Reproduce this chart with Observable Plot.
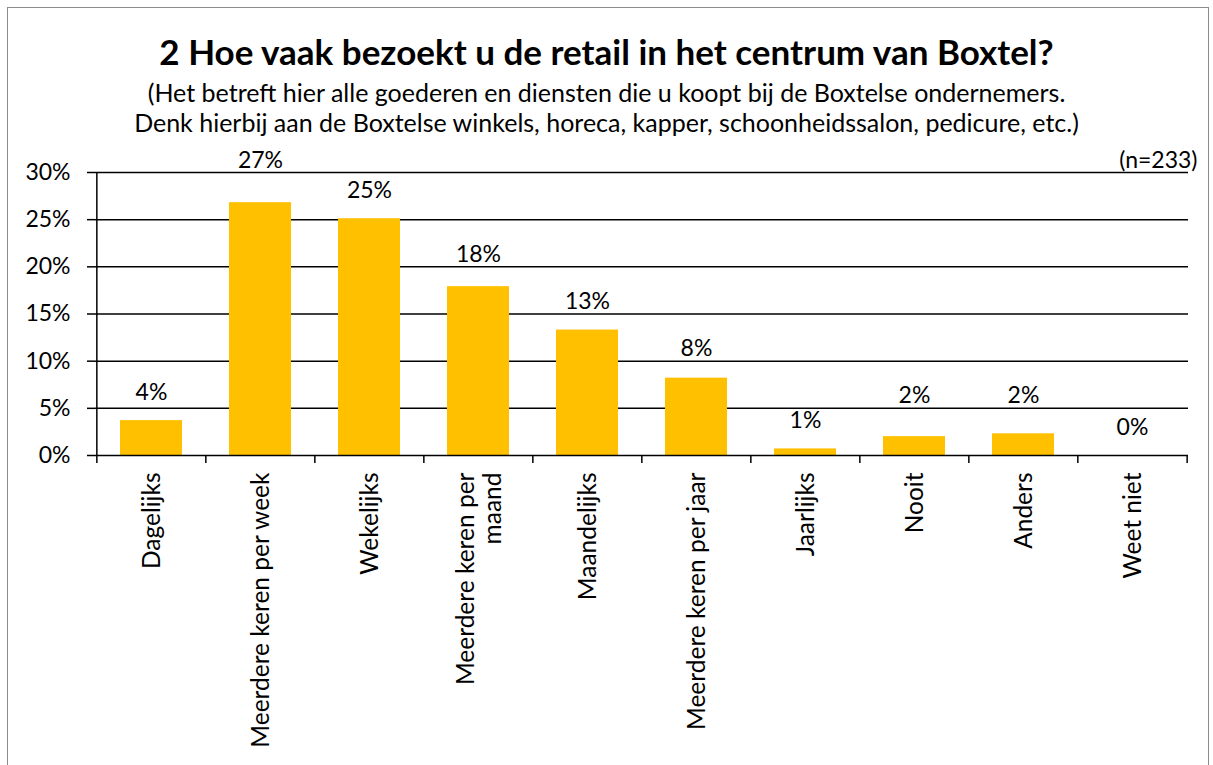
<!DOCTYPE html>
<html>
<head>
<meta charset="utf-8">
<script src="https://cdn.jsdelivr.net/npm/d3@7"></script>
<script src="https://cdn.jsdelivr.net/npm/@observablehq/plot@0.6"></script>
<style>
  body { margin: 0; background: #fff; font-family: Lato, "Open Sans", sans-serif; }
  #wrap { position: relative; width: 1213px; height: 765px; overflow: hidden; }
  #frame { position: absolute; left: 7px; top: 7px; width: 1202px; height: 800px; border: 1.5px solid #8c8c8c; box-sizing: border-box; }
  .t { position: absolute; left: 0; width: 1213px; text-align: center; color: #000; white-space: nowrap; }
  #title { top: 31px; font-size: 35px; font-weight: 700; line-height: 40px; }
  #sub1 { top: 77px; font-size: 25px; line-height: 30px; }
  #sub2 { top: 107px; font-size: 25px; line-height: 30px; }
  #chart { position: absolute; left: 0; top: 0; }
</style>
</head>
<body>
<div id="wrap">
  <div id="frame"></div>
  <div class="t" id="title">2 Hoe vaak bezoekt u de retail in het centrum van Boxtel?</div>
  <div class="t" id="sub1">(Het betreft hier alle goederen en diensten die u koopt bij de Boxtelse ondernemers.</div>
  <div class="t" id="sub2">Denk hierbij aan de Boxtelse winkels, horeca, kapper, schoonheidssalon, pedicure, etc.)</div>
  <div id="chart"></div>
</div>
<script>
const categories = [
  "Dagelijks",
  "Meerdere keren per week",
  "Wekelijks",
  "Meerdere keren per\nmaand",
  "Maandelijks",
  "Meerdere keren per jaar",
  "Jaarlijks",
  "Nooit",
  "Anders",
  "Weet niet"
];
const values = [3.7, 26.8, 25.1, 17.9, 13.3, 8.2, 0.7, 2.0, 2.3, 0];
const yTicks = [0, 5, 10, 15, 20, 25, 30];
const note = "(n=233)";

const data = categories.map((c, i) => ({cat: c, v: values[i]}));

const W = 1213, H = 765;
const mL = 95, mR = 25, mT = 172, mB = 310;
const bw = (W - mL - mR) / categories.length;
const FONT = "Lato, 'Open Sans', sans-serif";

// value label placed just above the bar, nudged above a gridline if it would sit on one
function labelY(v) {
  let y = v + 3;
  const g = Math.round(y / 5) * 5;
  if (g > 0 && Math.abs(y - g) < 1.25) y = g + 1.3;
  return y;
}

const chart = Plot.plot({
  width: W,
  height: H,
  marginLeft: mL,
  marginRight: mR,
  marginTop: mT,
  marginBottom: mB,
  style: { fontFamily: FONT, fontSize: "23px", color: "#000", background: "transparent", overflow: "visible" },
  x: { domain: categories, paddingInner: 0.43, paddingOuter: 0.215, label: null },
  y: { domain: [0, 30], label: null, clamp: false },
  marks: [
    Plot.ruleY(yTicks.filter(d => d > 0), { stroke: "#000", strokeWidth: 1.5 }),
    Plot.barY(data, { x: "cat", y: "v", fill: "#FFC000" }),
    Plot.text(data, { x: "cat", y: d => labelY(d.v), text: d => Math.round(d.v) + "%", lineAnchor: "middle", fontSize: 23, fill: "#000", clip: false }),
    Plot.axisY({ ticks: yTicks, tickFormat: d => d + "%", tickSize: 8, tickPadding: 17, fontSize: 23, stroke: "#000", strokeWidth: 1.5 }),
    Plot.ruleX([categories[0]], { x: d => d, dx: -bw / 2, y1: 0, y2: 30, stroke: "#000", strokeWidth: 1.5 }),
    Plot.ruleY([0], { stroke: "#000", strokeWidth: 1.5 }),
    Plot.axisX({ tickSize: 0, tickPadding: 17, tickRotate: -90, textAnchor: "end", fontSize: 24.5, fill: "#000", lineHeight: 1.12 }),
    Plot.axisX({ text: null, tickSize: 8, dx: -bw / 2, stroke: "#000", strokeWidth: 1.5 }),
    Plot.axisX({ ticks: [categories[categories.length - 1]], text: null, tickSize: 8, dx: bw / 2, stroke: "#000", strokeWidth: 1.5 }),
    Plot.text([note], { frameAnchor: "top-right", text: d => d, dx: 9, dy: -12, lineAnchor: "middle", fontSize: 23, fill: "#000", textAnchor: "end" })
  ]
});
document.getElementById("chart").appendChild(chart);
</script>
</body>
</html>
